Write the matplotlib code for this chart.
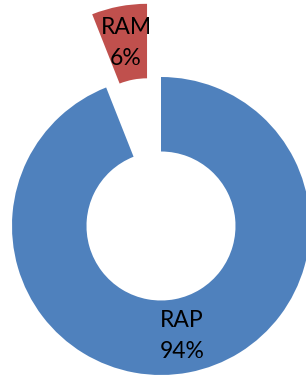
import matplotlib.pyplot as plt

# data
labels = ['RAP', 'RAM']
values = [94, 6]
colors = ['#4F81BD', '#C0504D']

plt.rcParams['font.family'] = ['Lato', 'DejaVu Sans']

fig = plt.figure(figsize=(3.06, 3.79), dpi=100)
ax = fig.add_axes([0, 0, 1, 1])

# work in pixel-like units so the ring lands where it does in the reference
radius = 149
center = (161, 153)


def make_label(pct, names=iter(labels)):
    return f'{next(names)}\n{pct:.0f}%'


wedges, texts, autotexts = ax.pie(
    values, colors=colors, startangle=90, counterclock=False,
    radius=radius, center=center, explode=[0, 0.5 * radius],
    wedgeprops=dict(width=0.5 * radius, linewidth=0),
    autopct=make_label, pctdistance=0.75, frame=False)

for t in autotexts:
    t.set_fontsize(16.5)
    t.set_color('black')
    t.set_linespacing(1.6)

ax.set_xlim(0, 306)
ax.set_ylim(0, 379)
ax.set_aspect('equal')
ax.axis('off')

fig.savefig('out.png', dpi=100)
